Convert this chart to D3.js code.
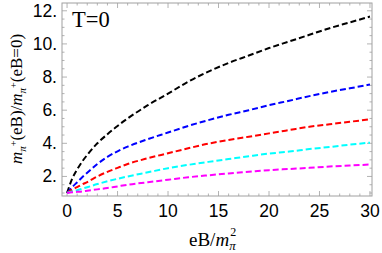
<!DOCTYPE html>
<html>
<head>
<meta charset="utf-8">
<script src="https://cdn.jsdelivr.net/npm/d3@7"></script>
<style>
  body { margin: 0; background: #fff; }
  svg { display: block; }
</style>
</head>
<body>
<div id="chart"></div>
<script>
// eB / m_pi^2 sample points
const eB = [0, 0.5, 1, 1.5, 2, 3, 4, 5, 6, 8, 10, 12, 14, 16, 18, 20, 22, 24, 26, 28, 30];

// m_pi+(eB)/m_pi+(eB=0)
const blackVals   = [1.0, 1.85, 2.42, 2.9, 3.3, 4.0, 4.55, 5.05, 5.5, 6.3, 7.0, 7.72, 8.33, 8.85, 9.3, 9.75, 10.15, 10.55, 10.95, 11.3, 11.65];
const blueVals    = [1.0, 1.35, 1.65, 1.95, 2.22, 2.75, 3.18, 3.52, 3.8, 4.25, 4.65, 5.05, 5.4, 5.72, 6.0, 6.3, 6.57, 6.85, 7.1, 7.32, 7.55];
const redVals     = [1.0, 1.2, 1.36, 1.52, 1.66, 2.0, 2.28, 2.52, 2.75, 3.1, 3.4, 3.7, 3.98, 4.2, 4.4, 4.6, 4.8, 5.0, 5.15, 5.3, 5.45];
const cyanVals    = [1.0, 1.09, 1.17, 1.26, 1.35, 1.54, 1.71, 1.86, 2.0, 2.25, 2.5, 2.7, 2.88, 3.05, 3.22, 3.38, 3.5, 3.65, 3.78, 3.92, 4.04];
const magentaVals = [1.0, 1.04, 1.07, 1.1, 1.14, 1.22, 1.3, 1.4, 1.5, 1.65, 1.8, 1.95, 2.07, 2.18, 2.28, 2.38, 2.45, 2.52, 2.6, 2.66, 2.72];

const seriesColors = ["#000000", "#0000ff", "#ff0000", "#00ffff", "#ff00ff"];
const seriesVals = [blackVals, blueVals, redVals, cyanVals, magentaVals];

const xTicks = [0, 5, 10, 15, 20, 25, 30];
const yTicks = [2, 4, 6, 8, 10, 12];
const yTickLabels = ["2.", "4.", "6.", "8.", "10.", "12."];

const SERIF = '"Liberation Serif", "Times New Roman", serif';
const SANS = '"Liberation Sans", Arial, Helvetica';

const width = 382, height = 253;
const frame = { left: 62, right: 372, top: 3, bottom: 196 };

const svg = d3.select("#chart").append("svg")
    .attr("width", width)
    .attr("height", height);

const x = d3.scaleLinear().domain([-0.5, 30.2]).range([frame.left, frame.right]);
const y = d3.scaleLinear().domain([0.82, 12.47]).range([frame.bottom, frame.top]);

const frameColor = "#a0a0a0";

// frame
svg.append("rect")
    .attr("x", frame.left)
    .attr("y", frame.top)
    .attr("width", frame.right - frame.left)
    .attr("height", frame.bottom - frame.top)
    .attr("fill", "none")
    .attr("stroke", frameColor)
    .attr("stroke-width", 1);

// ticks pointing inward on all four sides
const xMinor = d3.range(0, 31, 1);
const yMinor = d3.range(1, 12.5, 0.5);

const tickG = svg.append("g").attr("stroke", frameColor).attr("stroke-width", 0.8);
xMinor.forEach(v => {
    const len = v % 5 === 0 ? 5 : 2.5;
    tickG.append("line").attr("x1", x(v)).attr("x2", x(v))
        .attr("y1", frame.bottom).attr("y2", frame.bottom - len);
    tickG.append("line").attr("x1", x(v)).attr("x2", x(v))
        .attr("y1", frame.top).attr("y2", frame.top + len);
});
yMinor.forEach(v => {
    const len = v % 2 === 0 ? 5 : 2.5;
    tickG.append("line").attr("y1", y(v)).attr("y2", y(v))
        .attr("x1", frame.left).attr("x2", frame.left + len);
    tickG.append("line").attr("y1", y(v)).attr("y2", y(v))
        .attr("x1", frame.right).attr("x2", frame.right - len);
});

// tick labels
svg.append("g").selectAll("text")
    .data(xTicks)
    .join("text")
    .style("font-family", SANS)
    .attr("x", d => x(d))
    .attr("y", 217)
    .attr("text-anchor", "middle")
    .attr("font-size", 17.5)
    .text(d => d);

svg.append("g").selectAll("text")
    .data(yTicks)
    .join("text")
    .style("font-family", SANS)
    .attr("x", 57)
    .attr("y", d => y(d) + 6)
    .attr("text-anchor", "end")
    .attr("font-size", 17.5)
    .text((d, i) => yTickLabels[i]);

// curves
const line = d3.line()
    .x(d => x(d[0]))
    .y(d => y(d[1]))
    .curve(d3.curveMonotoneX);

seriesVals.forEach((vals, i) => {
    svg.append("path")
        .datum(eB.map((e, j) => [e, vals[j]]))
        .attr("fill", "none")
        .attr("stroke", seriesColors[i])
        .attr("stroke-width", 2)
        .attr("stroke-dasharray", "6,3")
        .attr("d", line);
});

// annotation
svg.append("text")
    .style("font-family", SERIF)
    .attr("x", 72)
    .attr("y", 27)
    .attr("font-size", 22.5)
    .text("T=0");

// x axis title: eB/m_pi^2
const xt = svg.append("text")
    .style("font-family", SERIF)
    .attr("x", 189)
    .attr("y", 246)
    .attr("font-size", 19);
xt.append("tspan").text("eB/");
xt.append("tspan").attr("font-style", "italic").text("m");
const piX = xt.append("tspan").attr("font-size", 13).attr("font-style", "italic").attr("dy", 4).text("π");

const piStart = piX.node().getStartPositionOfChar(0).x;
svg.append("text")
    .style("font-family", SERIF)
    .attr("x", piStart + 1)
    .attr("y", 236)
    .attr("font-size", 12)
    .text("2");

// y axis title: m_pi+(eB)/m_pi+(eB=0)
const yt = svg.append("text")
    .style("font-family", SERIF)
    .attr("transform", "translate(22,99) rotate(-90)")
    .attr("text-anchor", "middle")
    .attr("font-size", 17);
yt.append("tspan").attr("font-style", "italic").text("m");
yt.append("tspan").attr("font-size", 11).attr("font-style", "italic").attr("dy", 4).text("π");
yt.append("tspan").attr("font-size", 10).attr("dy", -9).text("+");
yt.append("tspan").attr("dy", 5).text("(eB)/");
yt.append("tspan").attr("font-style", "italic").text("m");
yt.append("tspan").attr("font-size", 11).attr("font-style", "italic").attr("dy", 4).text("π");
yt.append("tspan").attr("font-size", 10).attr("dy", -9).text("+");
yt.append("tspan").attr("dy", 5).text("(eB=0)");
</script>
</body>
</html>
